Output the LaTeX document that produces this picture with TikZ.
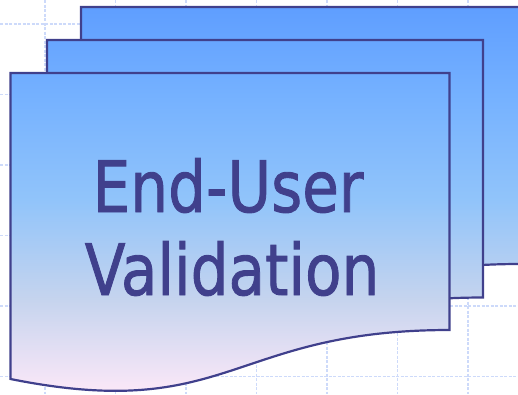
\documentclass[tikz,border=0pt]{standalone}
\usepackage{fontspec}
\newfontfamily\docfont[FakeBold=1.3]{DejaVu Sans}
\definecolor{edge}{RGB}{64,64,140}
\definecolor{txt}{RGB}{64,64,140}
\definecolor{gridc}{RGB}{205,218,250}
\definecolor{sc0}{RGB}{252,232,248}
\definecolor{sc1}{RGB}{198,212,238}
\definecolor{sc2}{RGB}{145,196,250}
\definecolor{sc3}{RGB}{118,178,255}
\definecolor{sc4}{RGB}{95,158,255}
\pgfdeclareverticalshading{docshade}{100bp}{color(0bp)=(sc0); color(25bp)=(sc0); color(37bp)=(sc1); color(50bp)=(sc2); color(63bp)=(sc3); color(75bp)=(sc4); color(100bp)=(sc4)}
\begin{document}
\begin{tikzpicture}[x=1pt,y=-1pt,
  docline/.style={draw=edge, line width=2.2pt, line join=miter},
  gridline/.style={draw=gridc, line width=1.2pt, dash pattern=on 3pt off 1.5pt},
  labeltext/.style={anchor=base, text=txt, inner sep=0pt, font=\docfont\fontsize{71}{80}\selectfont}]
\useasboundingbox (0,0) rectangle (518,394);
\clip (0,0) rectangle (518,394);
% background grid
\foreach \i in {0,...,6} \draw[gridline] (45+70.5*\i,0) -- (45+70.5*\i,394);
\foreach \j in {0,...,5} \draw[gridline] (0,24+70.5*\j) -- (518,24+70.5*\j);
% back page
\begin{scope}
  \clip (81,7) -- (520,7) -- (520,264) .. controls (300,264) and (300,357) .. (81,313) -- cycle;
  \shade[shading=docshade] (0,7) rectangle (518,393);
\end{scope}
\draw[docline] (81,7) -- (520,7) -- (520,264) .. controls (300,264) and (300,357) .. (81,313) -- cycle;
% middle page
\begin{scope}
  \clip (47,40) -- (483,40) -- (483,297.5) .. controls (265,297.5) and (265,390.5) .. (47,346.5) -- cycle;
  \shade[shading=docshade] (0,7) rectangle (518,393);
\end{scope}
\draw[docline] (47,40) -- (483,40) -- (483,297.5) .. controls (265,297.5) and (265,390.5) .. (47,346.5) -- cycle;
% front page
\begin{scope}
  \clip (10.5,73) -- (449.5,73) -- (449.5,330) .. controls (230,330) and (230,423) .. (10.5,379) -- cycle;
  \shade[shading=docshade] (0,7) rectangle (518,393);
\end{scope}
\draw[docline] (10.5,73) -- (449.5,73) -- (449.5,330) .. controls (230,330) and (230,423) .. (10.5,379) -- cycle;
% text
\node[labeltext] (line1) at (228,212) {\scalebox{0.84}[1]{End-User}};
\node[labeltext] (line2) at (232,295) {\scalebox{0.84}[1]{Validation}};
\end{tikzpicture}
\end{document}
